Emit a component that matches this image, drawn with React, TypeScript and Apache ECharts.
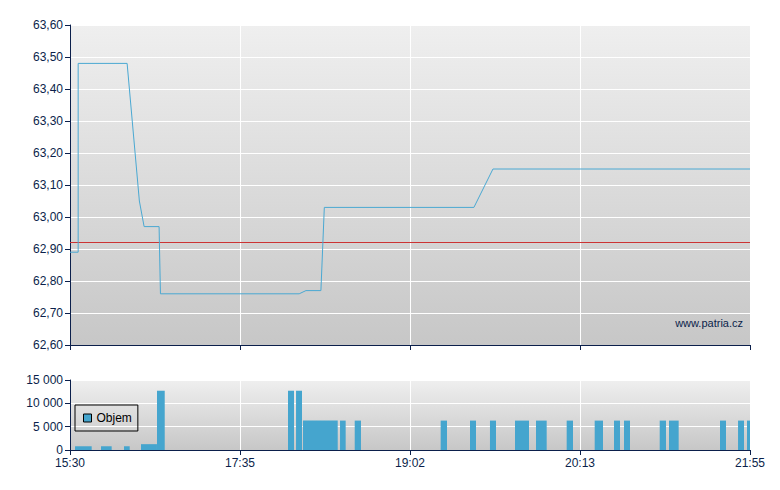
import React, { useEffect, useRef } from "react";
import * as echarts from "echarts";

// x positions are in "session index" units (0..100), tick labels below
const TIME_LABELS = ["15:30", "17:35", "19:02", "20:13", "21:55"];

const PRICE_X = [0, 1.2, 1.2, 8.4, 10.2, 10.9, 13.1, 13.3, 33.7, 34.7, 36.9, 37.4, 59.4, 62.2, 100];
const PRICE_Y = [62.89, 62.89, 63.48, 63.48, 63.05, 62.97, 62.97, 62.76, 62.76, 62.77, 62.77, 63.03, 63.03, 63.15, 63.15];

const REFERENCE_PRICE = 62.92;

const VOL_START = [0.74, 4.56, 7.94, 10.44, 12.79, 32.06, 33.24, 34.26, 39.71, 41.87, 54.51, 58.82, 61.76, 65.44, 68.53, 73.04, 77.16, 80.0, 81.47, 86.72, 88.09, 95.59, 98.24, 99.56];
const VOL_END = [3.19, 6.13, 8.78, 12.79, 13.93, 32.94, 34.12, 39.37, 40.54, 42.79, 55.44, 59.71, 62.65, 67.5, 70.1, 73.97, 78.38, 80.88, 82.35, 87.65, 89.51, 96.47, 99.12, 100];
const VOL_VALUE = [800, 800, 800, 1250, 12700, 12700, 12700, 6300, 6300, 6300, 6300, 6300, 6300, 6300, 6300, 6300, 6300, 6300, 6300, 6300, 6300, 6300, 6300, 6300];

const NAVY = "#0b1f4b";
const BLUE = "#45a5ce";
const FONT = "'Liberation Sans', Arial, sans-serif";

const gradient = {
  type: "linear",
  x: 0,
  y: 0,
  x2: 0,
  y2: 1,
  colorStops: [
    { offset: 0, color: "#efefef" },
    { offset: 1, color: "#c7c7c7" },
  ],
};

export default function App() {
  const ref = useRef<HTMLDivElement>(null);

  useEffect(() => {
    document.body.style.margin = "0";
    const chart = echarts.init(ref.current as HTMLDivElement, null, { renderer: "svg" });

    const priceData = PRICE_X.map((x, i) => [x, PRICE_Y[i]]);
    const volData = VOL_START.map((s, i) => [s, VOL_END[i], VOL_VALUE[i]]);

    const commonX = {
      type: "value",
      min: 0,
      max: 100,
      interval: 25,
      axisLine: { show: true, lineStyle: { color: NAVY, width: 1 } },
      axisTick: { show: true, length: 5, lineStyle: { color: NAVY } },
      splitLine: { show: true, lineStyle: { color: "#ffffff", width: 1 } },
    };

    const option: any = {
      animation: false,
      textStyle: { fontFamily: FONT },
      grid: [
        { left: 70, top: 25, width: 680, height: 320, show: true, backgroundColor: gradient, borderWidth: 0 },
        { left: 70, top: 380, width: 680, height: 70, show: true, backgroundColor: gradient, borderWidth: 0 },
      ],
      xAxis: [
        { ...commonX, gridIndex: 0, axisLabel: { show: false } },
        {
          ...commonX,
          gridIndex: 1,
          axisLabel: {
            show: true,
            color: NAVY,
            fontSize: 12,
            fontFamily: FONT,
            margin: 7,
            formatter: (v: number) => TIME_LABELS[Math.round(v / 25)] ?? "",
          },
        },
      ],
      yAxis: [
        {
          type: "value",
          gridIndex: 0,
          min: 62.6,
          max: 63.6,
          interval: 0.1,
          axisLine: { show: true, lineStyle: { color: NAVY, width: 1 } },
          axisTick: { show: true, length: 5, lineStyle: { color: NAVY } },
          splitLine: { show: true, lineStyle: { color: "#ffffff", width: 1 } },
          axisLabel: {
            color: NAVY,
            fontSize: 12,
            fontFamily: FONT,
            margin: 7,
            formatter: (v: number) => v.toFixed(2).replace(".", ","),
          },
        },
        {
          type: "value",
          gridIndex: 1,
          min: 0,
          max: 15000,
          interval: 5000,
          axisLine: { show: true, lineStyle: { color: NAVY, width: 1 } },
          axisTick: { show: true, length: 5, lineStyle: { color: NAVY } },
          splitLine: { show: true, lineStyle: { color: "#ffffff", width: 1 } },
          axisLabel: {
            color: NAVY,
            fontSize: 12,
            fontFamily: FONT,
            margin: 7,
            formatter: (v: number) => String(Math.round(v)).replace(/\B(?=(\d{3})+(?!\d))/g, " "),
          },
        },
      ],
      legend: {
        show: true,
        left: 75,
        top: 405,
        orient: "horizontal",
        borderColor: "#000000",
        borderWidth: 1,
        padding: [7, 6, 7, 8],
        itemWidth: 8,
        itemHeight: 8,
        itemGap: 5,
        textStyle: { color: "#000000", fontSize: 12, fontFamily: FONT },
        data: [
          {
            name: "Objem",
            icon: "rect",
            itemStyle: { color: BLUE, borderColor: "#000000", borderWidth: 1 },
          },
        ],
      },
      graphic: [
        {
          type: "text",
          x: 743,
          y: 323,
          style: {
            text: "www.patria.cz",
            align: "right",
            verticalAlign: "middle",
            fill: NAVY,
            font: "11px " + FONT,
          },
          z: 10,
        },
      ],
      series: [
        {
          name: "Cena",
          type: "line",
          xAxisIndex: 0,
          yAxisIndex: 0,
          data: priceData,
          symbol: "none",
          lineStyle: { color: "#4aa8d2", width: 1 },
          itemStyle: { color: "#4aa8d2" },
          z: 3,
          markLine: {
            silent: true,
            symbol: "none",
            label: { show: false },
            lineStyle: { color: "#cc3333", width: 1, type: "solid" },
            data: [{ yAxis: REFERENCE_PRICE }],
            z: 2,
          },
        },
        {
          name: "Objem",
          type: "custom",
          xAxisIndex: 1,
          yAxisIndex: 1,
          data: volData,
          encode: { x: [0, 1], y: 2 },
          itemStyle: { color: BLUE },
          renderItem: (params: any, api: any) => {
            const s = api.coord([api.value(0), api.value(2)]);
            const e = api.coord([api.value(1), 0]);
            return {
              type: "rect",
              shape: { x: s[0], y: s[1], width: e[0] - s[0], height: e[1] - s[1] },
              style: { fill: BLUE },
            };
          },
        },
      ],
    };

    chart.setOption(option);
    return () => chart.dispose();
  }, []);

  return <div ref={ref} style={{ width: 780, height: 490 }} />;
}
